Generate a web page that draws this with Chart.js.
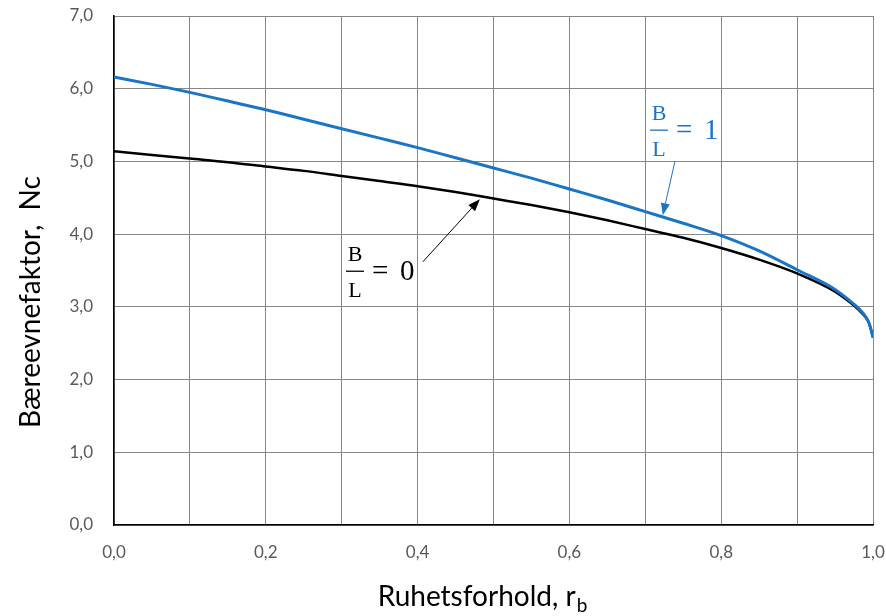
<!DOCTYPE html>
<html>
<head>
<meta charset="utf-8">
<script src="https://cdn.jsdelivr.net/npm/chart.js@4.4.1/dist/chart.umd.min.js"></script>
<style>
  html, body { margin: 0; padding: 0; background: #fff; }
  #wrap { width: 886px; height: 616px; position: relative; }
</style>
</head>
<body>
<div id="wrap"><canvas id="c"></canvas></div>
<script>
// ruhetsforhold r_b (x) and Nc
var rb = [0, 0.05, 0.1, 0.15, 0.2, 0.25, 0.3, 0.35, 0.4, 0.45, 0.5, 0.55, 0.6, 0.65, 0.7, 0.75, 0.8, 0.85, 0.9, 0.95, 0.97, 0.98, 0.99, 0.995, 1.0];
var ncBL0 = [5.14, 5.09, 5.04, 4.99, 4.93, 4.87, 4.80, 4.73, 4.66, 4.58, 4.49, 4.40, 4.30, 4.19, 4.07, 3.95, 3.81, 3.65, 3.46, 3.21, 3.06, 2.97, 2.86, 2.77, 2.58];
var ncBL1 = [6.16, 6.06, 5.95, 5.83, 5.71, 5.58, 5.45, 5.32, 5.19, 5.05, 4.91, 4.77, 4.62, 4.47, 4.31, 4.15, 3.98, 3.77, 3.51, 3.24, 3.08, 2.99, 2.87, 2.77, 2.58];

var xTitle = 'Ruhetsforhold, r';
var xTitleSub = 'b';
var yTitle = 'Bæreevnefaktor,  Nc';

// label positions in data units: fraction centre x, fraction bar y, arrow from / to
var labelBL1 = { value: '1', color: '#1a75c5', x: 0.718, y: 5.43, from: [0.739, 5.0], to: [0.723, 4.26] };
var labelBL0 = { value: '0', color: '#000000', x: 0.3175, y: 3.49, from: [0.407, 3.62], to: [0.482, 4.48] };

function pts(xs, ys) {
  var out = [];
  for (var i = 0; i < xs.length; i++) out.push({ x: xs[i], y: ys[i] });
  return out;
}

function fmt(v) {
  return v.toFixed(1).replace('.', ',');
}

var tickFont = { family: 'Lato', size: 17 };
var tickColor = '#595959';
var gridColor = '#868686';

var annotate = {
  id: 'annotate',
  afterDraw: function(chart) {
    var ctx = chart.ctx;
    var xs = chart.scales.x, ys = chart.scales.y;

    // axis titles
    ctx.save();
    ctx.fillStyle = '#000';
    ctx.textBaseline = 'alphabetic';
    ctx.font = '28px Lato';
    var w1 = ctx.measureText(xTitle).width;
    ctx.font = '19px Lato';
    var w2 = ctx.measureText(xTitleSub).width;
    var x0 = 482 - (w1 + w2) / 2;
    ctx.font = '28px Lato';
    ctx.textAlign = 'left';
    ctx.fillText(xTitle, x0, 606);
    ctx.font = '19px Lato';
    ctx.fillText(xTitleSub, x0 + w1 + 1, 612);

    ctx.translate(40, 302);
    ctx.rotate(-Math.PI / 2);
    ctx.font = '28px Lato';
    ctx.textAlign = 'center';
    ctx.fillText(yTitle, 0, 0);
    ctx.restore();

    [labelBL1, labelBL0].forEach(function(lb) {
      var cx = xs.getPixelForValue(lb.x);
      var cy = ys.getPixelForValue(lb.y);
      ctx.save();
      ctx.fillStyle = lb.color;
      ctx.strokeStyle = lb.color;
      ctx.textBaseline = 'alphabetic';
      ctx.font = '22px "Liberation Serif"';
      ctx.textAlign = 'center';
      ctx.fillText('B', cx, cy - 10);
      ctx.fillText('L', cx, cy + 26);
      ctx.lineWidth = 1.3;
      ctx.beginPath();
      ctx.moveTo(cx - 9, cy);
      ctx.lineTo(cx + 9, cy);
      ctx.stroke();
      ctx.font = '29px "Liberation Serif"';
      ctx.textAlign = 'left';
      ctx.textBaseline = 'middle';
      ctx.fillText('=', cx + 17, cy + 1);
      ctx.textBaseline = 'alphabetic';
      ctx.fillText(lb.value, cx + 45, cy + 9);

      // arrow
      var ax = xs.getPixelForValue(lb.from[0]), ay = ys.getPixelForValue(lb.from[1]);
      var bx = xs.getPixelForValue(lb.to[0]), by = ys.getPixelForValue(lb.to[1]);
      var ang = Math.atan2(by - ay, bx - ax);
      var hl = 12, hw = 4.5;
      ctx.lineWidth = 1;
      ctx.beginPath();
      ctx.moveTo(ax, ay);
      ctx.lineTo(bx - Math.cos(ang) * hl, by - Math.sin(ang) * hl);
      ctx.stroke();
      ctx.beginPath();
      ctx.moveTo(bx, by);
      ctx.lineTo(bx - Math.cos(ang) * hl - Math.sin(ang) * hw, by - Math.sin(ang) * hl + Math.cos(ang) * hw);
      ctx.lineTo(bx - Math.cos(ang) * hl + Math.sin(ang) * hw, by - Math.sin(ang) * hl - Math.cos(ang) * hw);
      ctx.closePath();
      ctx.fill();
      ctx.restore();
    });
  }
};

var ctx = document.getElementById('c');
var chart = new Chart(ctx, {
  type: 'line',
  data: {
    datasets: [
      {
        label: 'B/L = 1',
        data: pts(rb, ncBL1),
        borderColor: '#1a75c5',
        borderWidth: 3,
        pointRadius: 0,
        cubicInterpolationMode: 'monotone'
      },
      {
        label: 'B/L = 0',
        data: pts(rb, ncBL0),
        borderColor: '#000000',
        borderWidth: 2.5,
        pointRadius: 0,
        cubicInterpolationMode: 'monotone'
      }
    ]
  },
  options: {
    responsive: true,
    maintainAspectRatio: false,
    animation: false,
    layout: { padding: { top: 16, right: 13, left: 0, bottom: 0 } },
    plugins: {
      legend: { display: false },
      tooltip: { enabled: false }
    },
    scales: {
      x: {
        type: 'linear',
        min: 0,
        max: 1,
        afterFit: function(s) {
          s.height = 91;
          s.paddingLeft = 0;
          s.paddingRight = 0;
        },
        ticks: {
          stepSize: 0.1,
          autoSkip: false,
          maxRotation: 0,
          padding: 17,
          color: tickColor,
          font: tickFont,
          callback: function(v) {
            var k = Math.round(v * 10);
            return k % 2 === 0 ? fmt(k / 10) : '';
          }
        },
        grid: { color: gridColor, lineWidth: 1, drawTicks: false },
        border: { color: '#000', width: 1.5 }
      },
      y: {
        min: 0,
        max: 7,
        afterFit: function(s) {
          s.width = 114;
          s.paddingTop = 0;
          s.paddingBottom = 0;
        },
        ticks: {
          stepSize: 1,
          padding: 21,
          color: tickColor,
          font: tickFont,
          callback: function(v) { return fmt(v); }
        },
        grid: { color: gridColor, lineWidth: 1, drawTicks: false },
        border: { color: '#000', width: 1.5 }
      }
    }
  },
  plugins: [annotate]
});
</script>
</body>
</html>
